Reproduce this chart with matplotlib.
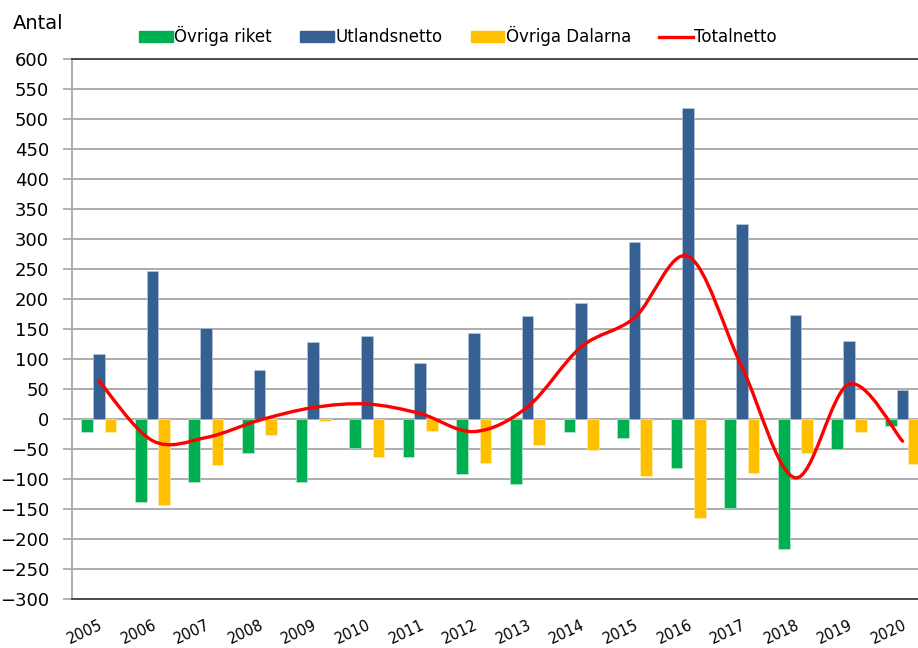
import numpy as np
import matplotlib.pyplot as plt
from matplotlib.path import Path
from matplotlib.patches import PathPatch, Patch
from matplotlib.lines import Line2D

years = ["2005", "2006", "2007", "2008", "2009", "2010", "2011", "2012",
         "2013", "2014", "2015", "2016", "2017", "2018", "2019", "2020"]
ovriga_riket = [-22, -139, -105, -56, -105, -49, -64, -92,
                -109, -22, -31, -82, -148, -216, -50, -11]
utlandsnetto = [108, 246, 151, 81, 128, 138, 93, 144,
                172, 193, 295, 518, 325, 174, 130, 49]
ovriga_dalarna = [-22, -143, -77, -27, -4, -64, -20, -73,
                  -43, -51, -95, -165, -90, -56, -22, -75]
totalnetto = [64, -36, -31, -2, 19, 25, 9, -21,
              20, 120, 169, 271, 87, -98, 58, -37]

green = "#00B050"
blue = "#376092"
yellow = "#FFC000"
red = "#FF0000"
grid_gray = "#A6A6A6"

fig = plt.figure(figsize=(9.18, 6.48), dpi=100)
ax = fig.add_axes([0.0784, 0.0756, 0.934, 0.8334])

x = np.arange(len(years))
w = 0.218
ax.bar(x - w, ovriga_riket, w, color=green, edgecolor="#c8ecd6", linewidth=0.4, zorder=3)
ax.bar(x, utlandsnetto, w, color=blue, edgecolor="#c0cfe0", linewidth=0.4, zorder=3)
ax.bar(x + w, ovriga_dalarna, w, color=yellow, edgecolor="#fff0c0", linewidth=0.4, zorder=3)

# smoothed line, Excel-style bezier through the points
pts = np.column_stack([x, totalnetto]).astype(float)
verts = [pts[0]]
codes = [Path.MOVETO]
n = len(pts)
for i in range(n - 1):
    p0 = pts[i - 1] if i > 0 else pts[i]
    p1 = pts[i]
    p2 = pts[i + 1]
    p3 = pts[i + 2] if i + 2 < n else pts[i + 1]
    verts += [p1 + (p2 - p0) / 6.0, p2 - (p3 - p1) / 6.0, p2]
    codes += [Path.CURVE4] * 3
ax.add_patch(PathPatch(Path(verts, codes), facecolor="none", edgecolor=red,
                       linewidth=2.4, zorder=4, capstyle="round"))

ax.set_xlim(-0.5, len(years) - 0.5)
ax.set_ylim(-300, 600)
ax.set_yticks(np.arange(-300, 601, 50))
ax.set_xticks(x)
ax.set_xticklabels(years, rotation=25, ha="right", va="top", rotation_mode="anchor")
ax.tick_params(axis="x", length=0, pad=13, labelsize=10.5)
ax.tick_params(axis="y", length=6.5, color=grid_gray, width=1.2, labelsize=13, pad=10)
ax.grid(axis="y", color=grid_gray, linewidth=1.3, zorder=0)
ax.set_axisbelow(True)

ax.spines["right"].set_visible(False)
ax.spines["left"].set_color(grid_gray)
ax.spines["left"].set_linewidth(1.3)
for s in ["top", "bottom"]:
    ax.spines[s].set_color("#404040")
    ax.spines[s].set_linewidth(1.3)

handles = [Patch(color=green), Patch(color=blue), Patch(color=yellow),
           Line2D([], [], color=red, linewidth=2.4)]
fig.legend(handles, ["Övriga riket", "Utlandsnetto", "Övriga Dalarna", "Totalnetto"],
           loc="center", bbox_to_anchor=(0.499, 0.944), ncol=4, frameon=False,
           fontsize=12, handlelength=2.0, handleheight=0.6, handletextpad=0.1,
           columnspacing=1.7)

fig.text(0.014, 0.964, "Antal", fontsize=14, va="center", ha="left")

fig.savefig("out.png", dpi=100)
